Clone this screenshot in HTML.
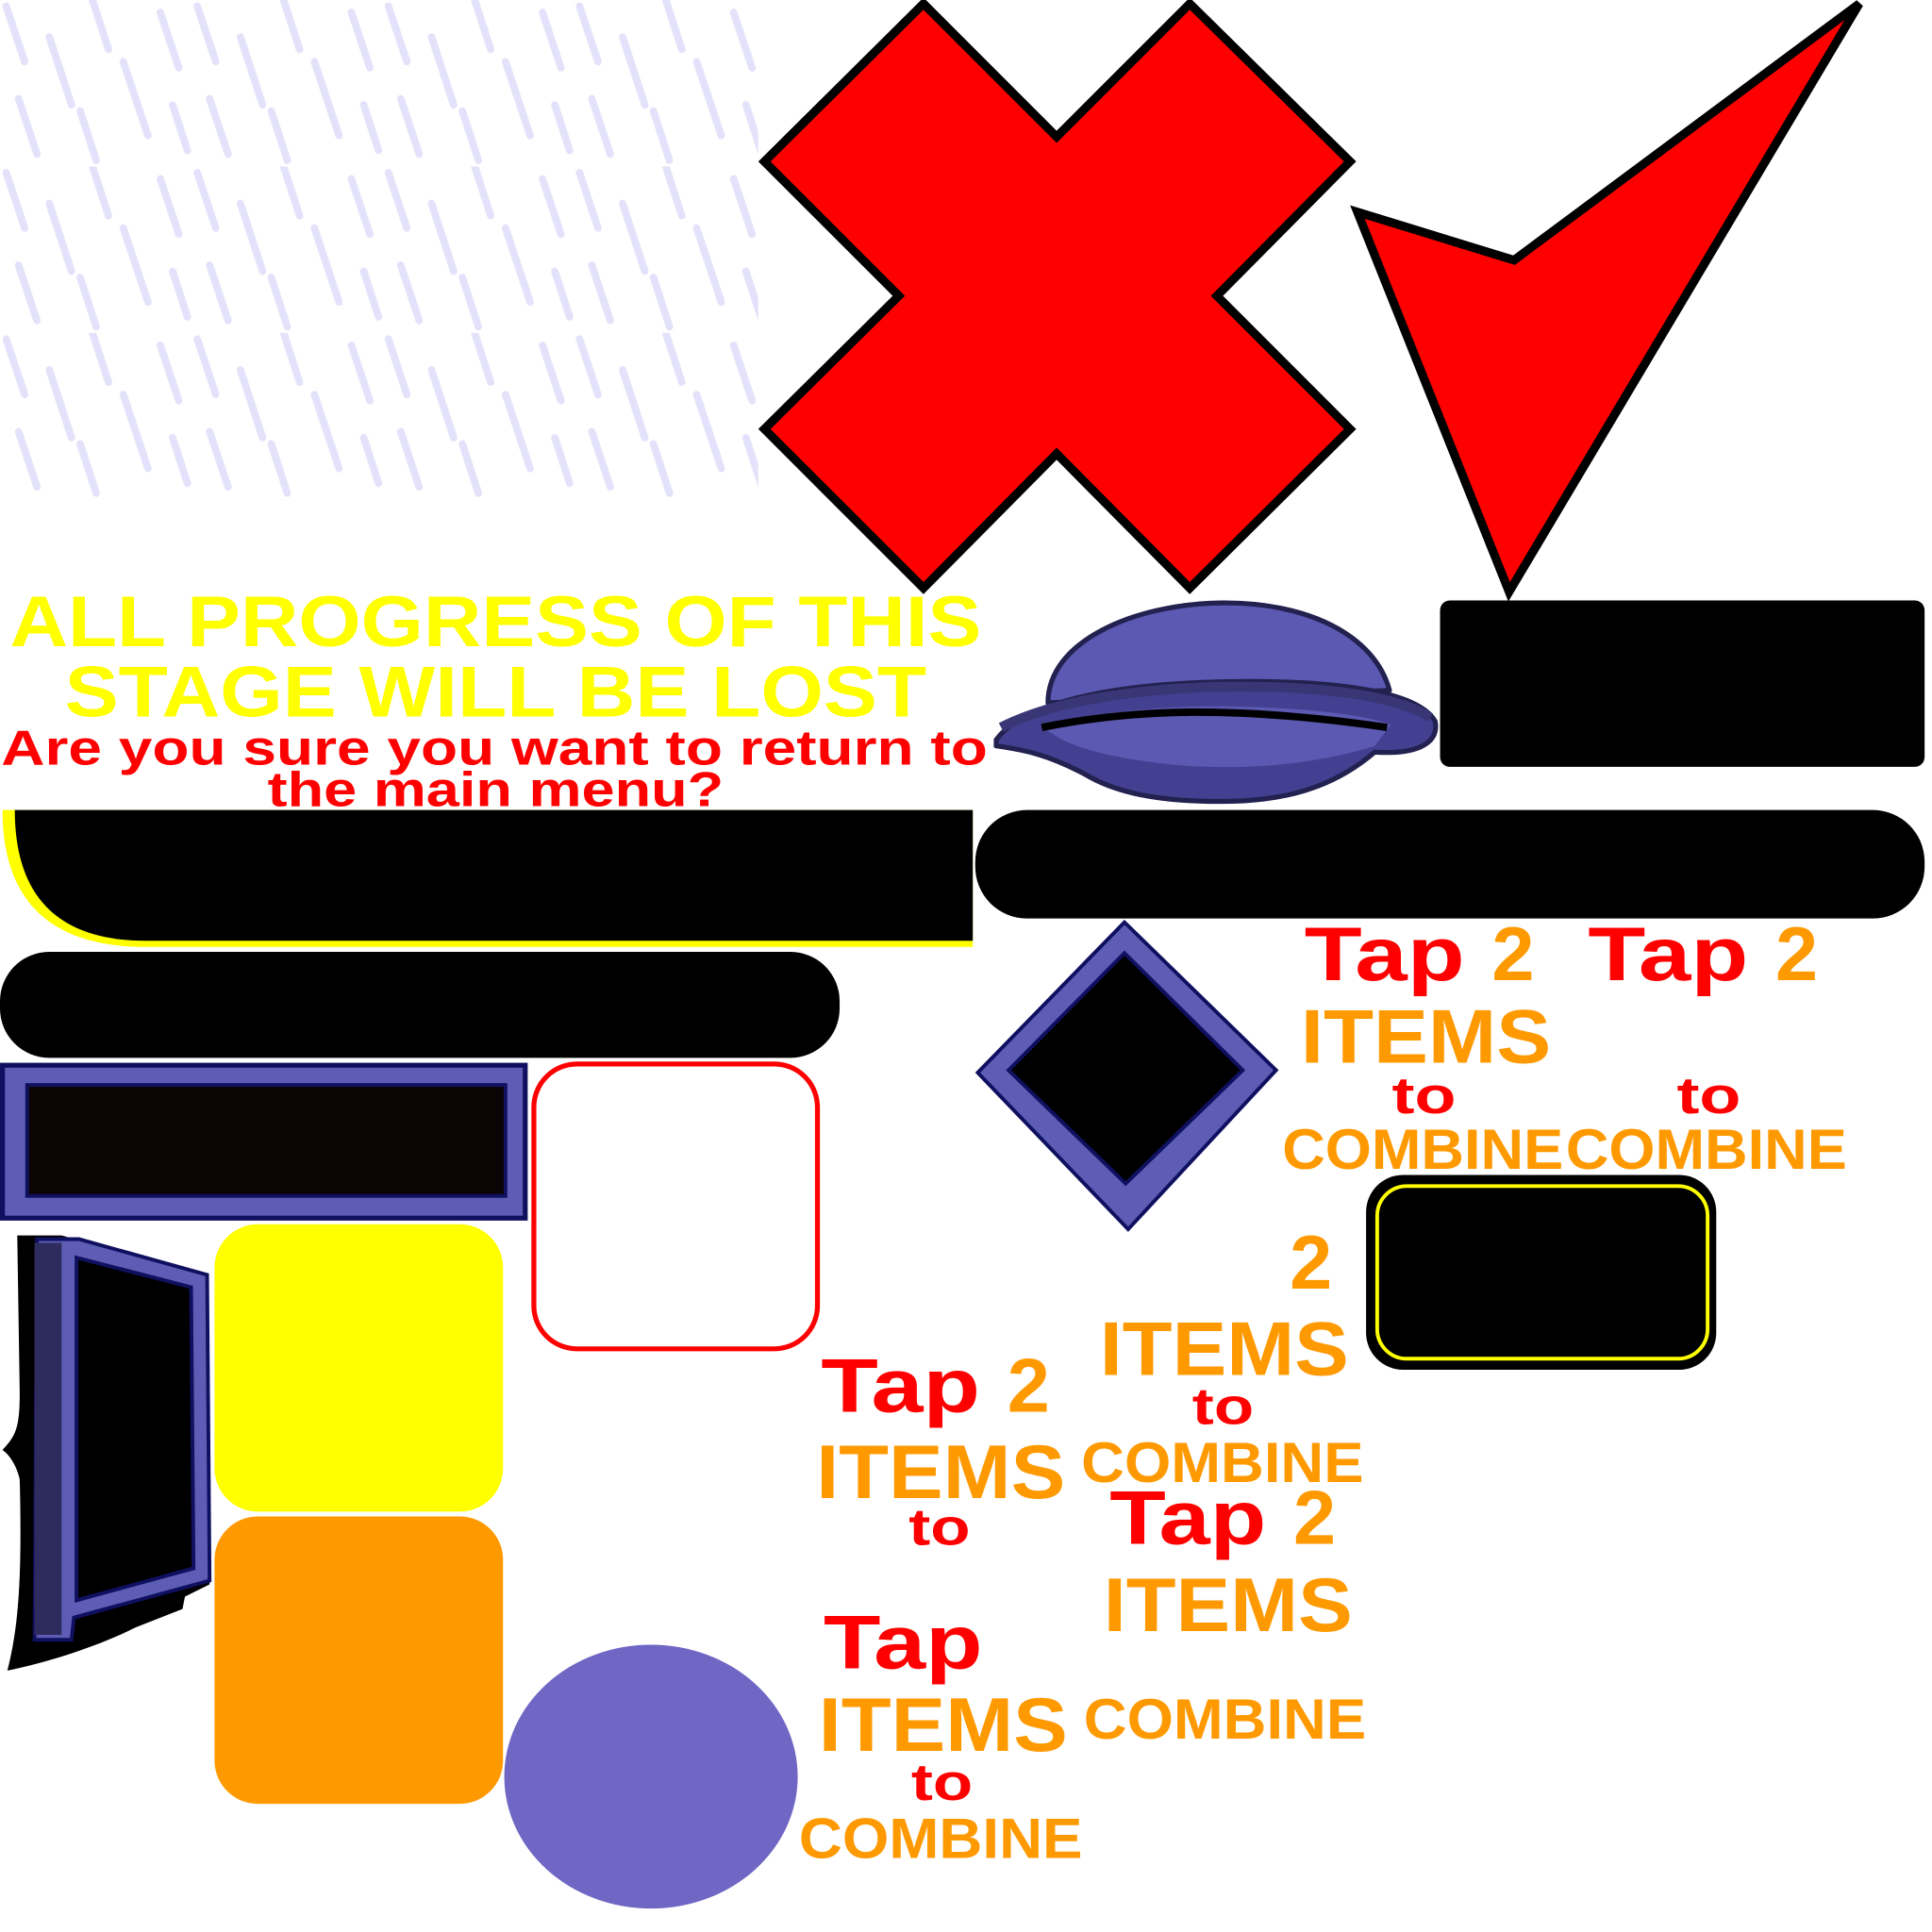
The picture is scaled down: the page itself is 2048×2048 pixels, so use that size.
<!DOCTYPE html>
<html><head><meta charset="utf-8"><style>
html,body{margin:0;padding:0;background:#fff;width:2048px;height:2048px;overflow:hidden}
svg{display:block}
text{font-family:"Liberation Sans",sans-serif;font-weight:bold}
</style></head><body>
<svg width="2048" height="2048" viewBox="0 0 1567 1567" preserveAspectRatio="none" xmlns="http://www.w3.org/2000/svg">
<defs>
<pattern id="rain" x="0" y="0" width="155" height="135" patternUnits="userSpaceOnUse">
<g stroke="#e4e2fa" stroke-width="6" stroke-linecap="round" fill="none">
<line x1="5" y1="5" x2="20" y2="50"/>
<line x1="40" y1="30" x2="58" y2="85"/>
<line x1="75" y1="0" x2="88" y2="40"/>
<line x1="100" y1="50" x2="120" y2="110"/>
<line x1="130" y1="10" x2="145" y2="55"/>
<line x1="15" y1="80" x2="30" y2="125"/>
<line x1="65" y1="90" x2="78" y2="130"/>
<line x1="140" y1="85" x2="152" y2="122"/>
</g>
</pattern>
</defs>
<rect x="0" y="0" width="615" height="405" fill="url(#rain)"/>

<polygon points="749,3 857,111 965,3 1095,131 987,240 1095,348 965,477 857,368 749,477 620,348 729,240 620,131" fill="#ff0000" stroke="#000" stroke-width="7" stroke-linejoin="miter"/>
<polygon points="1101,172 1228,211 1508,3 1224,480" fill="#ff0000" stroke="#000" stroke-width="7"/>
<polygon points="1121,188 1228,222 1480,38 1226,460" fill="#ff0000"/>

<text x="402" y="524" font-size="58" fill="#ffff00" text-anchor="middle" textLength="788" lengthAdjust="spacingAndGlyphs">ALL PROGRESS OF THIS</text>
<text x="402" y="581" font-size="58" fill="#ffff00" text-anchor="middle" textLength="699" lengthAdjust="spacingAndGlyphs">STAGE WILL BE LOST</text>
<text x="401" y="620" font-size="40" fill="#ff0000" text-anchor="middle" textLength="800" lengthAdjust="spacingAndGlyphs">Are you sure you want to return to</text>
<text x="402" y="654" font-size="40" fill="#ff0000" text-anchor="middle" textLength="370" lengthAdjust="spacingAndGlyphs">the main menu?</text>

<g stroke="#22214f" stroke-width="4" stroke-linejoin="round">
<path d="M850,570 C850,520 920,490 990,489 C1060,488 1115,515 1127,560 Z" fill="#5c59b3"/>
<path d="M808,600 C830,570 900,555 990,553 C1080,551 1150,560 1164,585 C1168,605 1145,612 1115,610 C1080,640 1040,650 990,650 C930,650 900,640 880,628 C850,612 830,608 808,605 Z" fill="#433f91"/>
<path d="M845,588 C900,575 960,572 1000,573 C1060,574 1110,580 1128,588 L1115,605 C1060,622 1000,625 950,620 C900,615 860,605 845,588 Z" fill="#5c59b3" stroke="none"/>
<path d="M845,590 C920,575 1000,572 1125,590" fill="none" stroke="#000" stroke-width="6"/>
<path d="M812,590 C860,565 940,558 990,557 C1060,556 1130,562 1160,582" fill="none" stroke="#393676" stroke-width="8"/>
</g>

<rect x="1168" y="487" width="393" height="135" rx="8" fill="#000"/>
<path d="M2,657 L789,657 L789,768 L118,768 C40,768 2,730 2,657 Z" fill="#ffff00"/>
<path d="M12,657 L789,657 L789,763 L118,763 C50,763 12,730 12,657 Z" fill="#000"/>
<rect x="791" y="657" width="770" height="88" rx="42" fill="#000"/>
<rect x="0" y="772" width="681" height="86" rx="40" fill="#000"/>

<rect x="2" y="864" width="424" height="124" fill="#5d5db5" stroke="#101060" stroke-width="4"/>
<rect x="22" y="880" width="388" height="90" fill="#0c0404" stroke="#101060" stroke-width="3"/>

<rect x="433" y="863" width="230" height="231" rx="35" fill="#fff" stroke="#ff0000" stroke-width="4"/>

<polygon points="912,748 1035,868 915,997 793,870" fill="#5d5db5" stroke="#101060" stroke-width="3"/>
<polygon points="912,773 1008,868 913,960 818,868" fill="#000" stroke="#101060" stroke-width="3"/>

<rect x="1108" y="953" width="284" height="158" rx="30" fill="#000"/>
<rect x="1117" y="962" width="268" height="140" rx="24" fill="none" stroke="#ffff00" stroke-width="3"/>

<path d="M14,1002 L50,1002 L168,1035 L170,1285 L150,1295 L148,1305 L110,1320 C80,1335 40,1348 6,1355 C15,1320 18,1280 16,1200 C14,1190 8,1180 2,1176 C12,1165 16,1160 16,1130 Z" fill="#000"/>
<path d="M30,1005 L64,1005 L168,1034 L170,1282 L60,1312 L58,1330 L28,1330 Z" fill="#5d5db5" stroke="#101060" stroke-width="3"/>
<rect x="28" y="1008" width="22" height="318" fill="#2e2c5e"/>
<path d="M62,1020 L155,1044 L157,1272 L62,1298 Z" fill="#000" stroke="#101060" stroke-width="3"/>

<rect x="174" y="993" width="234" height="233" rx="35" fill="#ffff00"/>
<rect x="174" y="1230" width="234" height="233" rx="35" fill="#ff9900"/>
<ellipse cx="528" cy="1441" rx="119" ry="107" fill="#7066c4"/>

<g font-size="62">
<text x="1058" y="795" fill="#ff0000" textLength="130" lengthAdjust="spacingAndGlyphs">Tap</text>
<text x="1210" y="795" fill="#ff9900">2</text>
<text x="1288" y="795" fill="#ff0000" textLength="130" lengthAdjust="spacingAndGlyphs">Tap</text>
<text x="1440" y="795" fill="#ff9900">2</text>
<text x="1055" y="862" fill="#ff9900" textLength="203" lengthAdjust="spacingAndGlyphs">ITEMS</text>
<text x="1046" y="1045" fill="#ff9900">2</text>
<text x="892" y="1115" fill="#ff9900" textLength="202" lengthAdjust="spacingAndGlyphs">ITEMS</text>
<text x="666" y="1145" fill="#ff0000" textLength="129" lengthAdjust="spacingAndGlyphs">Tap</text>
<text x="817" y="1145" fill="#ff9900">2</text>
<text x="662" y="1215" fill="#ff9900" textLength="202" lengthAdjust="spacingAndGlyphs">ITEMS</text>
<text x="900" y="1252" fill="#ff0000" textLength="127" lengthAdjust="spacingAndGlyphs">Tap</text>
<text x="1049" y="1252" fill="#ff9900">2</text>
<text x="895" y="1323" fill="#ff9900" textLength="202" lengthAdjust="spacingAndGlyphs">ITEMS</text>
<text x="668" y="1353" fill="#ff0000" textLength="129" lengthAdjust="spacingAndGlyphs">Tap</text>
<text x="664" y="1420" fill="#ff9900" textLength="202" lengthAdjust="spacingAndGlyphs">ITEMS</text>
</g>
<g font-size="42" fill="#ff0000">
<text x="1129" y="903" textLength="52" lengthAdjust="spacingAndGlyphs">to</text>
<text x="1360" y="903" textLength="52" lengthAdjust="spacingAndGlyphs">to</text>
<text x="967" y="1155" textLength="50" lengthAdjust="spacingAndGlyphs">to</text>
<text x="737" y="1253" textLength="50" lengthAdjust="spacingAndGlyphs">to</text>
<text x="739" y="1460" textLength="50" lengthAdjust="spacingAndGlyphs">to</text>
</g>
<g font-size="46" fill="#ff9900">
<text x="1040" y="948" textLength="228" lengthAdjust="spacingAndGlyphs">COMBINE</text>
<text x="1270" y="948" textLength="228" lengthAdjust="spacingAndGlyphs">COMBINE</text>
<text x="877" y="1202" textLength="229" lengthAdjust="spacingAndGlyphs">COMBINE</text>
<text x="879" y="1410" textLength="229" lengthAdjust="spacingAndGlyphs">COMBINE</text>
<text x="648" y="1507" textLength="230" lengthAdjust="spacingAndGlyphs">COMBINE</text>
</g>
</svg>
</body></html>
